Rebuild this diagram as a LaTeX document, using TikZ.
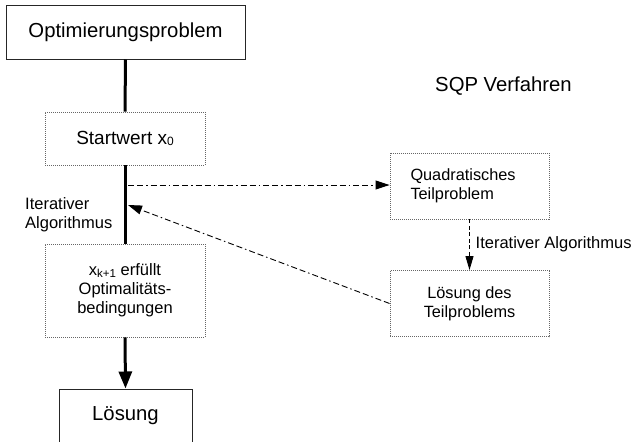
\documentclass[tikz,border=0pt]{standalone}
\usepackage{fontspec}
\setmainfont{Liberation Sans}
\usetikzlibrary{arrows.meta}
\newcommand\mysubx[2]{\raisebox{-1.5pt}{\fontsize{#1}{#1}\selectfont #2}}
\begin{document}
\begin{tikzpicture}[x=1pt,y=-1pt,
  bigtext/.style={font=\fontsize{20.3}{24}\selectfont},
  midtext/.style={font=\fontsize{19}{22}\selectfont},
  smalltext/.style={font=\fontsize{16.5}{18.8}\selectfont},
  boxtext/.style={font=\fontsize{16.3}{18.6}\selectfont},
  solidbox/.style={draw=black!85, line width=1pt, inner sep=0pt},
  dotbox/.style={draw=black!60, line width=0.9pt, dash pattern=on 1pt off 1pt, inner sep=0pt},
  mainline/.style={line width=3pt, draw=black},
  dashdot/.style={line width=0.9pt, dash pattern=on 6pt off 3pt on 6pt off 3pt on 1.5pt off 3pt},
  dashline/.style={line width=0.9pt, dash pattern=on 4pt off 2.5pt},
  tip/.style={-{Triangle[length=14pt,width=9pt]}}
]
\useasboundingbox (0,0) rectangle (635,442);
\begin{scope}
\clip (0,0) rectangle (635,442);
\node[solidbox, bigtext, minimum width=239pt, minimum height=54pt] (opt) at (125.5,32) {Optimierungsproblem};
\node[dotbox, midtext, minimum width=160pt, minimum height=53pt] (start) at (125,138.5) {Startwert x\mysubx{12}{0}};
\node[dotbox, smalltext, align=center, minimum width=160pt, minimum height=93pt] (cond) at (125,290.5) {x\mysubx{11.5}{k+1} erfüllt\\Optimalitäts-\\bedingungen};
\node[solidbox, bigtext, minimum width=133pt, minimum height=54pt] (loes) at (125.5,416) {Lösung};
\node[dotbox, boxtext, align=left, text width=118pt, inner xsep=20.5pt, minimum height=66pt] (quad) at (469.5,186) {Quadratisches\\Teilproblem};
\node[dotbox, boxtext, align=center, minimum width=159pt, minimum height=66pt] (tsol) at (469.5,303.5) {Lösung des\\Teilproblems};
\node[bigtext] (sqp) at (503.5,86) {SQP Verfahren};
\node[smalltext, align=left, anchor=west, inner sep=0pt] (itl) at (25,214.5) {Iterativer\\Algorithmus};
\node[smalltext, anchor=west, inner sep=0pt] (itr) at (475.5,244) {Iterativer Algorithmus};

\coordinate (h1) at (128,185);
\coordinate (d1) at (128,205);

\draw[mainline] (opt.south) -- (start.north);
\draw[mainline] (start.south) -- (cond.north);
\draw[mainline, -{Triangle[length=17pt,width=13pt]}] (cond.south) -- (loes.north);
\draw[dashdot, tip] (h1) -- (quad.west |- h1);
\draw[dashdot, tip] (tsol.west) -- (d1);
\draw[dashline, -{Triangle[length=14pt,width=8pt]}] (quad.south) -- (tsol.north);
\end{scope}
\end{tikzpicture}
\end{document}
